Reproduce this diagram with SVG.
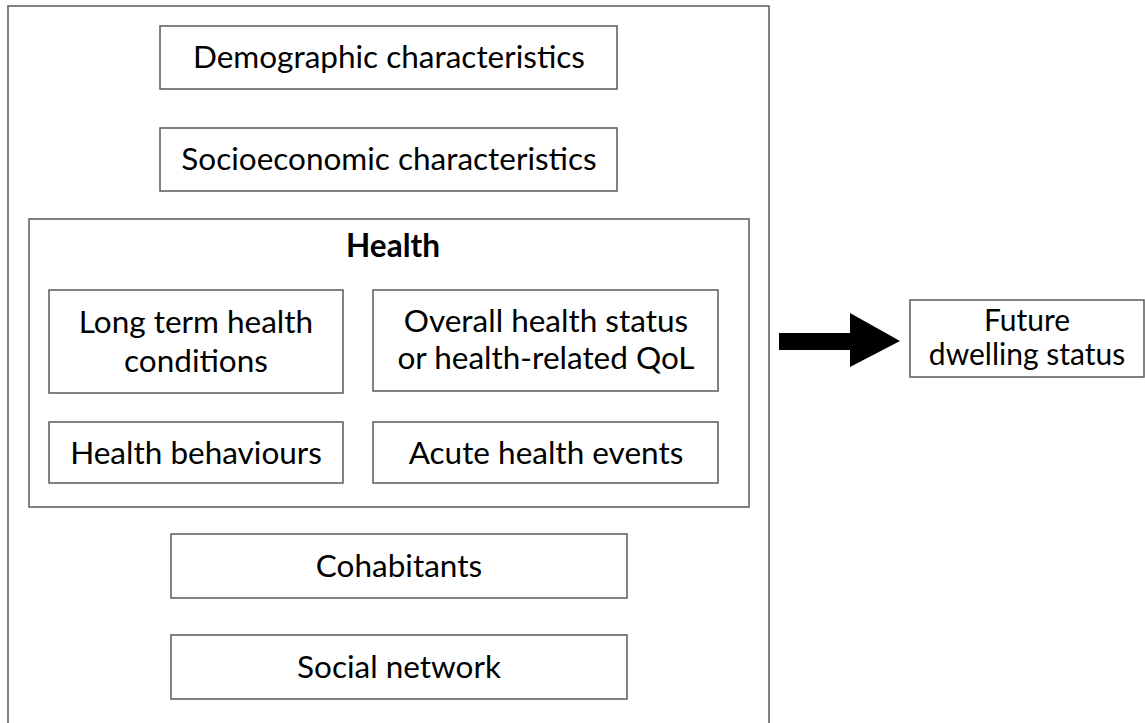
<svg xmlns="http://www.w3.org/2000/svg" width="1145" height="723" viewBox="0 0 1145 723">
<style>
.box{fill:#fff;stroke:#595959;stroke-width:1.5}
.t{font-family:Lato,"Open Sans",sans-serif;font-size:31.5px;fill:#000;text-anchor:middle}
.s{font-size:30px}
.b{font-weight:bold}
</style>
<rect width="1145" height="723" fill="#fff"/>
<g id="outer"><rect class="box" x="8" y="6" width="761" height="730"/></g>
<g id="demographic"><rect class="box" x="160" y="26" width="457" height="63"/><text class="t" x="389" y="68">Demographic characteristics</text></g>
<g id="socioeconomic"><rect class="box" x="160" y="128" width="457" height="63"/><text class="t" x="389" y="170">Socioeconomic characteristics</text></g>
<g id="health"><rect class="box" x="29" y="219" width="720" height="288"/><text class="t b" x="393" y="257">Health</text></g>
<g id="long-term"><rect class="box" x="49" y="290" width="294" height="103"/><text class="t" x="196" y="333">Long term health</text><text class="t" x="196" y="372">conditions</text></g>
<g id="overall"><rect class="box" x="373" y="290" width="345" height="101"/><text class="t" x="546" y="332">Overall health status</text><text class="t" x="546" y="369">or health-related QoL</text></g>
<g id="behaviours"><rect class="box" x="49" y="422" width="294" height="61"/><text class="t" x="196" y="464">Health behaviours</text></g>
<g id="acute"><rect class="box" x="373" y="422" width="345" height="61"/><text class="t" x="546" y="464">Acute health events</text></g>
<g id="cohabitants"><rect class="box" x="171" y="534" width="456" height="64"/><text class="t" x="399" y="577">Cohabitants</text></g>
<g id="social"><rect class="box" x="171" y="635" width="456" height="64"/><text class="t" x="399" y="678">Social network</text></g>
<g id="future"><rect class="box" x="910" y="300" width="234" height="77"/><text class="t s" x="1027" y="331">Future</text><text class="t s" x="1027" y="365">dwelling status</text></g>
<g id="connectors"><polygon points="779,333 850,333 850,313 900,341 850,367 850,350 779,350" fill="#000"/></g>
</svg>
